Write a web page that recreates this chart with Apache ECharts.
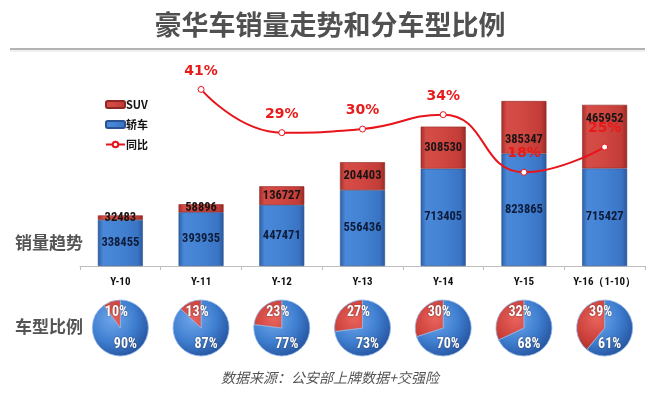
<!DOCTYPE html>
<html>
<head>
<meta charset="utf-8">
<script src="https://cdn.jsdelivr.net/npm/echarts@6/dist/echarts.min.js"></script>
<style>
html,body{margin:0;padding:0;background:#fff;}
#chart{width:660px;height:397px;}
</style>
</head>
<body>
<div id="chart"></div>
<script>
// ---- data ----
const categories = ['Y-10', 'Y-11', 'Y-12', 'Y-13', 'Y-14', 'Y-15', 'Y-16（1-10）'];
const sedanSales = [338455, 393935, 447471, 556436, 713405, 823865, 715427];
const suvSales = [32483, 58896, 136727, 204403, 308530, 385347, 465952];
const yoyGrowth = ['-', 41, 29, 30, 34, 18, 25];
const suvShare = [10, 13, 23, 27, 30, 32, 39];
const sedanShare = [90, 87, 77, 73, 70, 68, 61];

// ---- layout ----
const W = 660, H = 397;
const gridLeft = 80, gridRight = 15, gridTop = 75, gridBottom = 131;
const catW = (W - gridLeft - gridRight) / categories.length;
const pieY = 328, pieR = 28;

const numFont = "'Roboto Condensed','Roboto','DejaVu Sans Condensed',sans-serif";
const cjkFont = "'Noto Sans CJK SC','Noto Sans',sans-serif";

function hGrad(stops) {
  return {type: 'linear', x: 0, y: 0, x2: 1, y2: 0,
    colorStops: stops.map(s => ({offset: s[0], color: s[1]}))};
}
const blueBar = hGrad([[0, '#2c5fa8'], [0.12, '#4a88d8'], [0.5, '#4382d3'], [0.88, '#3a74c4'], [1, '#2a589e']]);
const redBar = hGrad([[0, '#a32e2a'], [0.12, '#d64d47'], [0.5, '#d04641'], [0.88, '#c23c37'], [1, '#982a26']]);

function radial(cx, cy, stops) {
  return {type: 'radial', x: cx - 8, y: cy - 9, r: pieR + 14, global: true,
    colorStops: stops.map(s => ({offset: s[0], color: s[1]}))};
}

const series = [
  {
    name: '轿车', type: 'bar', stack: 'sales', barWidth: 45,
    data: sedanSales,
    itemStyle: {color: blueBar, borderColor: '#2a5292', borderWidth: 0.6},
    label: {show: true, position: 'inside', color: '#0e1c3a', fontFamily: numFont,
      fontWeight: 'bold', fontSize: 12.5}
  },
  {
    name: 'SUV', type: 'bar', stack: 'sales', barWidth: 45,
    data: suvSales.map((v, i) => {
      const off = i === 5 ? [0, 13] : (i === 6 ? [0, -18] : [0, 0]);
      return {value: v, label: {offset: off}};
    }),
    itemStyle: {color: redBar, borderColor: '#8e2824', borderWidth: 0.6},
    label: {show: true, position: 'inside', color: '#1a1414', fontFamily: numFont,
      fontWeight: 'bold', fontSize: 12.5}
  },
  {
    name: '同比', type: 'line', yAxisIndex: 1, smooth: true,
    data: yoyGrowth,
    symbol: 'circle', symbolSize: 6,
    lineStyle: {color: '#e8141b', width: 2},
    itemStyle: {color: '#fff', borderColor: '#e8141b', borderWidth: 1},
    label: {show: true, position: 'top', distance: 8, formatter: '{c}%',
      color: '#e81a1a', fontSize: 14, fontWeight: 'bold', fontFamily: "'DejaVu Sans',sans-serif"},
    z: 5
  }
];

categories.forEach((c, i) => {
  const cx = gridLeft + (i + 0.5) * catW;
  series.push({
    type: 'pie', silent: true, center: [cx, pieY], radius: pieR,
    startAngle: 90, clockwise: true,
    data: [
      {name: '轿车', value: sedanShare[i],
        itemStyle: {color: radial(cx, pieY, [[0, '#6fa6ea'], [0.55, '#3f7ed0'], [1, '#23509a']])}},
      {name: 'SUV', value: suvShare[i],
        itemStyle: {color: radial(cx, pieY, [[0, '#e8635c'], [0.55, '#c93d37'], [1, '#8a2420']])}}
    ],
    itemStyle: {borderColor: '#8fb6ea', borderWidth: 0.8},
    label: {show: true, position: 'center', formatter: '{c}%', color: '#fff',
      fontFamily: numFont, fontWeight: 'bold', fontSize: 14,
      textShadowColor: 'rgba(40,20,20,0.6)', textShadowBlur: 2},
    labelLayout: function (p) {
      return p.dataIndex === 1 ? {dx: -4, dy: -16} : {dx: 5, dy: 16};
    },
    labelLine: {show: false}
  });
});

const chart = echarts.init(document.getElementById('chart'), null, {renderer: 'canvas'});
chart.setOption({
  animation: false,
  backgroundColor: '#fff',
  title: [
    {text: '豪华车销量走势和分车型比例', left: 'center', top: 6,
      textStyle: {fontFamily: cjkFont, fontSize: 27, fontWeight: 'bold', color: '#505050'}},
    {text: '销量趋势', left: 10, top: 229,
      textStyle: {fontFamily: cjkFont, fontSize: 17, fontWeight: 'bold', color: '#555'}},
    {text: '车型比例', left: 10, top: 313,
      textStyle: {fontFamily: cjkFont, fontSize: 17, fontWeight: 'bold', color: '#555'}},
    {text: '数据来源：公安部上牌数据+交强险', left: 'center', top: 366,
      textStyle: {fontFamily: cjkFont, fontSize: 14, fontWeight: 'normal', fontStyle: 'italic', color: '#555'}}
  ],
  graphic: [
    {type: 'line', shape: {x1: 10, y1: 49, x2: 645, y2: 49}, style: {stroke: '#9a9a9a', lineWidth: 1.5}},
    {type: 'line', shape: {x1: 10, y1: 51, x2: 645, y2: 51}, style: {stroke: '#e0e0e0', lineWidth: 1}}
  ],
  legend: {
    data: ['SUV', '轿车', '同比'], orient: 'vertical', left: 100, top: 94,
    itemWidth: 19, itemHeight: 7, itemGap: 9,
    textStyle: {fontFamily: cjkFont, fontSize: 11, fontWeight: 'bold', color: '#111', padding: [0, 0, 0, -4]}
  },
  grid: {left: gridLeft, right: gridRight, top: gridTop, bottom: gridBottom},
  xAxis: {
    type: 'category', data: categories,
    axisLine: {lineStyle: {color: '#bdbdbd'}},
    axisTick: {show: true, length: 4, lineStyle: {color: '#bdbdbd'}},
    axisLabel: {color: '#111', fontFamily: numFont, fontWeight: 'bold', fontSize: 11, margin: 11, interval: 0}
  },
  yAxis: [
    {type: 'value', min: 0, max: 1400000, show: false, splitLine: {show: false}},
    {type: 'value', min: -8, max: 45, show: false, splitLine: {show: false}}
  ],
  series: series
});
</script>
</body>
</html>
